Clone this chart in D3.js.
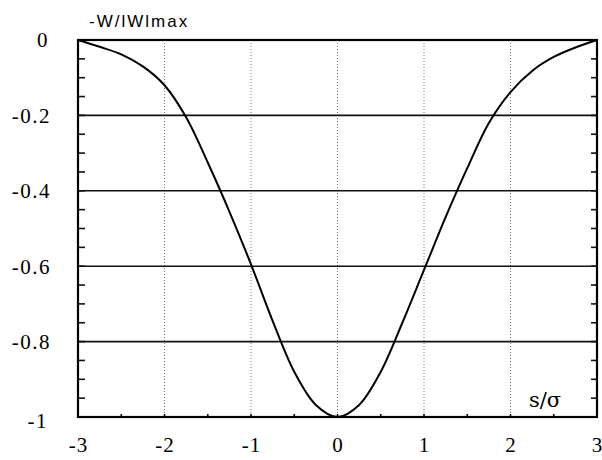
<!DOCTYPE html>
<html>
<head>
<meta charset="utf-8">
<script src="https://cdn.jsdelivr.net/npm/d3@7"></script>
<style>
  html, body { margin: 0; padding: 0; background: #fff; }
  svg { display: block; }
  svg text.serif { font-family: "Liberation Serif"; }
  svg text.serif2 { font-family: "DejaVu Serif"; }
  svg text.sans { font-family: "Liberation Sans"; }
</style>
</head>
<body>
<svg id="chart" width="602" height="460"></svg>
<script>
// Normalised wake potential versus bunch coordinate s/σ
const sValues = [-3, -2.75, -2.5, -2.25, -2, -1.75, -1.5, -1.25, -1, -0.75, -0.5, -0.25, 0,
                 0.25, 0.5, 0.75, 1, 1.25, 1.5, 1.75, 2, 2.25, 2.5, 2.75, 3];
const wValues = [0, -0.018, -0.038, -0.07, -0.12, -0.205, -0.325, -0.455, -0.595, -0.745, -0.88, -0.968, -1.0,
                 -0.968, -0.88, -0.75, -0.61, -0.47, -0.34, -0.22, -0.138, -0.082, -0.045, -0.02, 0];
const xTicks = [-3, -2, -1, 0, 1, 2, 3];
const xTickLabels = ["-3", "-2", "-1", "0", "1", "2", "3"];
const yTicks = [0, -0.2, -0.4, -0.6, -0.8, -1];
const yTickLabels = ["0", "-0.2", "-0.4", "-0.6", "-0.8", "-1"];
const xGrid = [-2, -1, 0, 1, 2];
const yGrid = [-0.2, -0.4, -0.6, -0.8];
const yMinor = d3.range(0, -1.0001, -0.05);
const xMinor = d3.range(-3, 3.0001, 0.5);

const svg = d3.select("#chart");
const plotLeft = 78, plotRight = 597, plotTop = 40, plotBottom = 417;

const x = d3.scaleLinear().domain([-3, 3]).range([plotLeft, plotRight]);
const y = d3.scaleLinear().domain([-1, 0]).range([plotBottom, plotTop]);

// vertical dotted grid
svg.append("g").selectAll("line").data(xGrid).join("line")
  .attr("x1", d => x(d)).attr("x2", d => x(d))
  .attr("y1", plotTop).attr("y2", plotBottom)
  .attr("stroke", "#777").attr("stroke-width", 1)
  .attr("stroke-dasharray", "1,2");

// horizontal solid grid
svg.append("g").selectAll("line").data(yGrid).join("line")
  .attr("x1", plotLeft).attr("x2", plotRight)
  .attr("y1", d => y(d)).attr("y2", d => y(d))
  .attr("stroke", "#111").attr("stroke-width", 1.6);

// inward minor ticks on left and right edges, short ones along the bottom
const tickG = svg.append("g").attr("stroke", "#111").attr("stroke-width", 1.6);
tickG.selectAll(".ly").data(yMinor).join("line").attr("class", "ly")
  .attr("x1", plotLeft).attr("x2", plotLeft + 7)
  .attr("y1", d => y(d)).attr("y2", d => y(d));
tickG.selectAll(".ry").data(yMinor).join("line").attr("class", "ry")
  .attr("x1", plotRight - 6).attr("x2", plotRight)
  .attr("y1", d => y(d)).attr("y2", d => y(d));
tickG.selectAll(".bx").data(xMinor).join("line").attr("class", "bx")
  .attr("x1", d => x(d)).attr("x2", d => x(d))
  .attr("y1", plotBottom - 3).attr("y2", plotBottom);

// frame
svg.append("rect")
  .attr("x", plotLeft).attr("y", plotTop)
  .attr("width", plotRight - plotLeft).attr("height", plotBottom - plotTop)
  .attr("fill", "none").attr("stroke", "#000").attr("stroke-width", 2.2);

// curve
const line = d3.line()
  .x((d, i) => x(sValues[i]))
  .y(d => y(d))
  .curve(d3.curveCatmullRom.alpha(0.5));
svg.append("path").datum(wValues)
  .attr("d", line)
  .attr("fill", "none").attr("stroke", "#000").attr("stroke-width", 2);

// tick labels via d3 axes (domain and tick marks hidden)
const xAxis = d3.axisBottom(x).tickValues(xTicks)
  .tickFormat((d, i) => xTickLabels[i]).tickSize(0).tickPadding(0);
const gx = svg.append("g").attr("transform", `translate(0,${plotBottom + 35})`).call(xAxis);
gx.attr("font-family", null).attr("font-size", null);
gx.select(".domain").remove();
gx.selectAll("text").attr("dy", null).attr("class", "serif")
  .style("font-size", "21px").style("letter-spacing", "1px").style("fill", "#000");

const yAxis = d3.axisLeft(y).tickValues(yTicks)
  .tickFormat((d, i) => yTickLabels[i]).tickSize(0).tickPadding(0);
const gy = svg.append("g").attr("transform", `translate(51,0)`).call(yAxis);
gy.attr("font-family", null).attr("font-size", null);
gy.select(".domain").remove();
gy.selectAll("text").attr("dy", "0.33em").attr("class", "serif")
  .style("font-size", "21px").style("letter-spacing", "1.5px").style("fill", "#000");
gy.selectAll(".tick").filter(d => d === 0)
  .select("text").attr("text-anchor", "middle").attr("x", -8);
gy.selectAll(".tick").filter(d => d === -1)
  .select("text").attr("x", -3).attr("dy", "0.5em");

// titles
svg.append("text").attr("class", "sans").attr("x", 89).attr("y", 27)
  .style("font-size", "17px").style("letter-spacing", "2px").style("fill", "#000")
  .text("-W/lWlmax");
svg.append("text").attr("class", "serif2").attr("x", 529).attr("y", 407)
  .style("font-size", "21px").style("fill", "#000")
  .text("s/σ");
</script>
</body>
</html>
